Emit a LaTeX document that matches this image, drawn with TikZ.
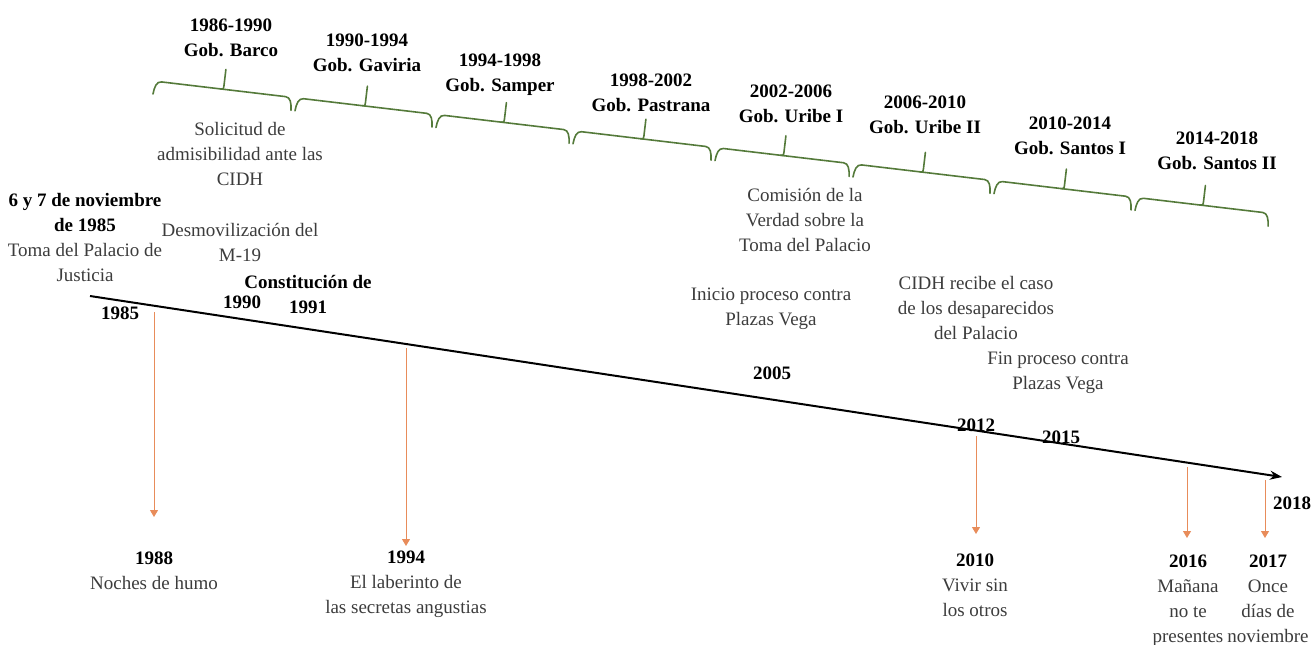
\documentclass[tikz,border=0pt]{standalone}
\usepackage{fontspec}
\setmainfont{LiberationSerif}[Extension=.ttf,UprightFont=*-Regular,BoldFont=*-Bold,ItalicFont=*-Italic,BoldItalicFont=*-BoldItalic]
\usepackage{xcolor}
\usepackage{tikz}
\usetikzlibrary{positioning,arrows.meta}

\definecolor{bracegreen}{RGB}{84,122,58}
\definecolor{filmorange}{RGB}{232,140,90}
\definecolor{eventgray}{RGB}{60,60,60}
\newcommand{\hl}[1]{\textcolor{black}{\textbf{#1}}}

\tikzset{
  txt/.style={align=center,inner sep=0pt,text=eventgray,font=\fontsize{9.5}{12.5}\selectfont},
  yr/.style={align=center,inner sep=0pt,text=black,font=\fontsize{9.5}{12.5}\selectfont\bfseries},
  gov/.style={draw=bracegreen,line width=0.8pt,line cap=round},
  film/.style={draw=filmorange,line width=0.5pt,-{Triangle[width=4pt,length=3.5pt]}},
  timeline/.style={draw=black,line width=1pt,-{Stealth[length=6pt,width=4.5pt]}},
}

\begin{document}
\begin{tikzpicture}[x=0.5pt,y=-0.5pt]
  \useasboundingbox (0,0) rectangle (1313,644);

  % governments
  \foreach \xl/\yl/\len in {153/94/139, 295/110.8/138, 436/127.5/134, 573/143.8/139,
                            715/160.6/135, 853/177/138, 994/193.7/138, 1135/210.4/134}
  {
    \begin{scope}[shift={(\xl,\yl)},rotate=-6.76]
      \draw[gov] (0,0) .. controls (0.5,-7) and (2,-13) .. (7,-13)
        -- ({\len-7},-13) .. controls ({\len-2},-13) and ({\len-0.5},-7) .. (\len,0);
      \draw[gov] ({\len/2-3},-13) .. controls ({\len/2},-13) .. ({\len/2},-16) -- ({\len/2},-33);
    \end{scope}
  }
  \node[yr] (barco)    at (231,37.5)  {1986-1990\\Gob. Barco};
  \node[yr] (gaviria)  at (367,52.5)  {1990-1994\\Gob. Gaviria};
  \node[yr] (samper)   at (500,75)    {1994-1998\\Gob. Samper};
  \node[yr] (pastrana) at (651,92.5)  {1998-2002\\Gob. Pastrana};
  \node[yr] (uribeA)   at (791,103.5) {2002-2006\\Gob. Uribe I};
  \node[yr] (uribeB)   at (925,114.5) {2006-2010\\Gob. Uribe II};
  \node[yr] (santosA)  at (1070,135.5){2010-2014\\Gob. Santos I};
  \node[yr] (santosB)  at (1217,150.5){2014-2018\\Gob. Santos II};

  % timeline
  \coordinate (tlstart) at (90,296);
  \coordinate (tlend) at (1282,477);
  \draw[timeline] (tlstart) -- (tlend);

  % events
  \node[txt] (toma) at (85,237) {\hl{6 y 7 de noviembre}\\\hl{de 1985}\\Toma del Palacio de\\Justicia};
  \node[txt] (solicitud) at (240,154) {Solicitud de\\admisibilidad ante las\\CIDH};
  \node[txt] (desmov) at (240,242) {Desmovilización del\\M-19};
  \node[yr] (constit) at (308,294) {Constitución de\\1991};
  \node[yr] (y1985) at (120,313) {1985};
  \node[yr] (y1990) at (242,302) {1990};
  \node[txt] (comision) at (805,220) {Comisión de la\\Verdad sobre la\\Toma del Palacio};
  \node[txt] (inicio) at (771,309) {Inicio proceso contra\\Plazas Vega};
  \node[yr] (y2005) at (772,373) {2005};
  \node[txt] (cidhcaso) at (976,308) {CIDH recibe el caso\\de los desaparecidos\\del Palacio};
  \node[txt] (fin) at (1058,373) {Fin proceso contra\\Plazas Vega};
  \node[yr] (y2012) at (976,425) {2012};
  \node[yr] (y2015) at (1061,437) {2015};
  \node[yr] (y2018) at (1292,503) {2018};

  % films
  \node[txt,anchor=north] (noches) at (154,551) {\hl{1988}\\Noches de humo};
  \node[txt,anchor=north] (laberinto) at (406,551) {\hl{1994}\\El laberinto de\\las secretas angustias};
  \node[txt,anchor=north] (vivir) at (975,553) {\hl{2010}\\Vivir sin\\los otros};
  \node[txt,anchor=north] (manana) at (1188,554) {\hl{2016}\\Mañana\\no te\\presentes};
  \node[txt,anchor=north] (once) at (1268,554) {\hl{2017}\\Once\\días de\\noviembre};
  \coordinate (a1988) at (154,312);
  \coordinate (a1994) at (406,348);
  \coordinate (a2010) at (976,436);
  \coordinate (a2016) at (1187,467);
  \coordinate (a2017) at (1265,480);
  \draw[film,shorten >=17pt] (a1988) -- (a1988 |- noches.north);
  \draw[film,shorten >=2.5pt] (a1994) -- (a1994 |- laberinto.north);
  \draw[film,shorten >=9.5pt] (a2010) -- (a2010 |- vivir.north);
  \draw[film,shorten >=8pt] (a2016) -- (a2016 |- manana.north);
  \draw[film,shorten >=8pt] (a2017) -- (a2017 |- once.north);
\end{tikzpicture}
\end{document}
